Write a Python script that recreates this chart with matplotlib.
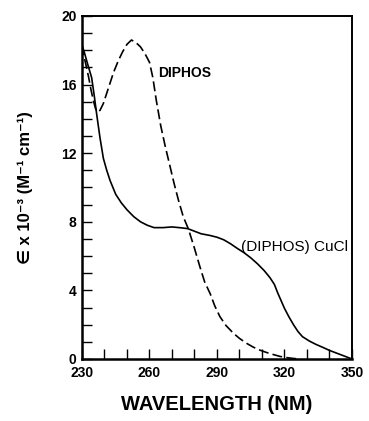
import matplotlib
matplotlib.use("Agg")
import matplotlib.pyplot as plt

plt.rcParams['font.family'] = ['Liberation Sans', 'DejaVu Sans']

# (DIPHOS) CuCl - solid line
cucl_wl = [230, 231, 232.5, 234.3, 235.5, 236.5, 238, 239.5, 241, 242.5, 245, 247.5,
           250, 253, 256, 259, 262, 266, 270, 274, 277, 280, 283, 287, 290, 293,
           296, 299, 302, 305, 308, 311, 313.5, 315.5, 317, 318.5, 320, 322, 324,
           326, 328, 331, 334, 337, 340, 343, 346, 350]
cucl_eps = [18.3, 17.9, 17.2, 16.4, 15.3, 14.3, 12.9, 11.7, 11.0, 10.4, 9.6, 9.1,
            8.7, 8.3, 8.0, 7.8, 7.66, 7.66, 7.7, 7.65, 7.6, 7.45, 7.3, 7.2, 7.1, 6.95,
            6.72, 6.45, 6.2, 5.9, 5.55, 5.15, 4.75, 4.35, 3.85, 3.4, 2.95, 2.45, 2.0,
            1.6, 1.3, 1.05, 0.85, 0.68, 0.5, 0.35, 0.2, 0.0]

# DIPHOS - dashed line
diphos_wl = [230, 231, 232, 233, 234, 235, 236, 237, 238, 239.5, 241, 242.5, 244,
             246, 248, 250, 252, 254, 256, 258, 260, 261.5, 263, 265, 267, 269,
             271, 273, 275, 277.3, 280, 282.4, 284.5, 287, 289, 291.3, 294, 297.3,
             300, 303.2, 306, 309, 312, 315, 318, 321, 324, 327]
diphos_eps = [18.3, 17.6, 17.0, 16.4, 15.7, 15.1, 14.6, 14.4, 14.5, 14.9, 15.5, 16.1,
              16.7, 17.35, 17.9, 18.35, 18.6, 18.45, 18.2, 17.8, 17.3, 16.4, 15.1,
              13.6, 12.4, 11.3, 10.2, 9.2, 8.3, 7.58, 6.45, 5.38, 4.5, 3.8, 3.1,
              2.47, 1.95, 1.5, 1.2, 0.91, 0.7, 0.52, 0.38, 0.26, 0.15, 0.08, 0.03, 0.0]

x_ticks = [230, 260, 290, 320, 350]
y_ticks = [0, 4, 8, 12, 16, 20]

fig = plt.figure(figsize=(3.69, 4.21), dpi=100)
ax = fig.add_axes([0.2222, 0.1473, 0.7317, 0.8147])

ax.plot(cucl_wl, cucl_eps, color='black', lw=1.2)
ax.plot(diphos_wl, diphos_eps, color='black', lw=1.2, ls=(0, (6, 2.5)))

ax.set_xlim(230, 350)
ax.set_ylim(0, 20)
ax.set_xticks(x_ticks)
ax.set_xticks(range(230, 351, 10), minor=True)
ax.set_yticks(y_ticks)
ax.set_yticks(range(0, 21), minor=True)
ax.tick_params(which='both', direction='in', length=7, width=1, top=False, right=False,
               labelsize=10)
ax.tick_params(axis='x', which='major', pad=5)
ax.tick_params(axis='y', which='major', pad=4)
for lab in ax.get_xticklabels() + ax.get_yticklabels():
    lab.set_fontweight('bold')

for side in ['left', 'bottom']:
    ax.spines[side].set_linewidth(1.8)
for side in ['top', 'right']:
    ax.spines[side].set_linewidth(1.4)

ax.text(263.8, 16.68, 'DIPHOS', fontsize=10, fontweight='bold', va='center', ha='left')
ax.text(300.7, 6.55, '(DIPHOS) CuCl', fontsize=11, va='center', ha='left')

ax.set_xlabel('WAVELENGTH (NM)', fontsize=14.5, fontweight='bold', labelpad=11)
ax.set_ylabel('\u2208 x 10\u207b\u00b3 (M\u207b\u00b9 cm\u207b\u00b9)', fontsize=12,
              fontweight='bold', labelpad=20)

fig.savefig('out.png', dpi=100)
